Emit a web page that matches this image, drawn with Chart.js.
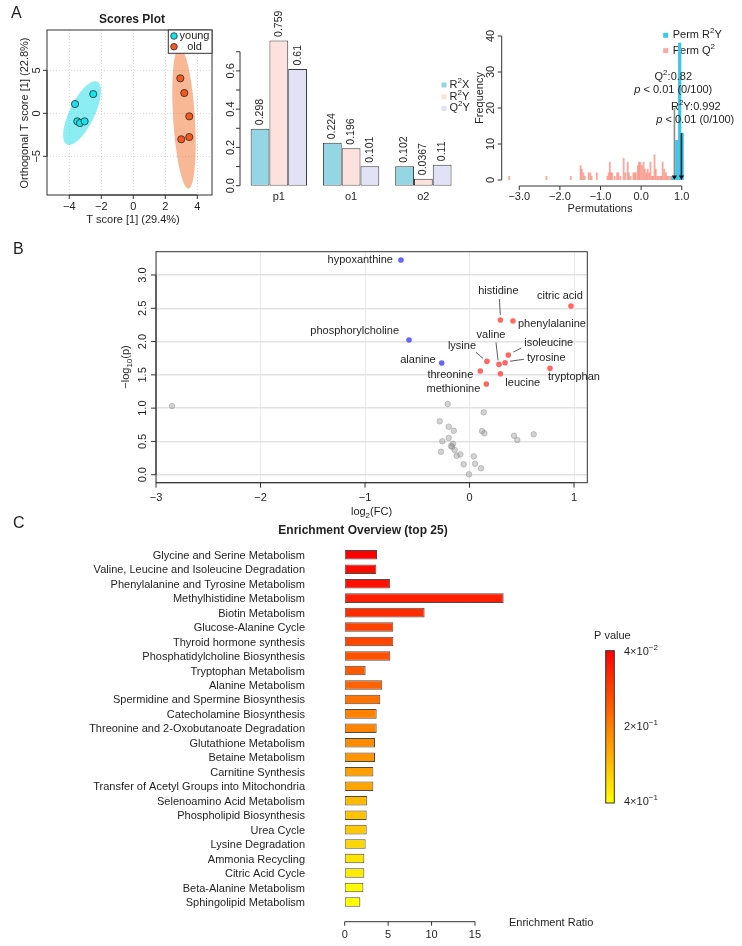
<!DOCTYPE html>
<html>
<head>
<meta charset="utf-8">
<script src="https://cdn.jsdelivr.net/npm/chart.js@4/dist/chart.umd.min.js"></script>
<style>
  html, body { margin: 0; padding: 0; background: #fff; }
  #page { position: relative; width: 742px; height: 946px; overflow: hidden; }
  #page canvas { position: absolute; left: 0; top: 0; }
</style>
</head>
<body>
<div id="page">
  <canvas id="scores" width="742" height="946"></canvas>
  <canvas id="model" width="742" height="946"></canvas>
  <canvas id="perm" width="742" height="946"></canvas>
  <canvas id="volcano" width="742" height="946"></canvas>
  <canvas id="enrich" width="742" height="946"></canvas>
</div>
<script>
// ===== DATA =====
// A: OPLS-DA scores
const youngT = [-3.64, -2.5, -3.5, -3.33, -3.04];
const youngOrthoT = [1.08, 2.24, -0.93, -1.13, -0.93];
const oldT = [2.94, 3.19, 3.5, 3.0, 3.5];
const oldOrthoT = [4.07, 2.36, -0.35, -3.02, -2.76];
// confidence ellipses: centre + two conjugate semi-axes (data units)
const youngEllipse = { c: [-3.2, 0.03], a: [0.95, 3.65], b: [0.7, -0.64] };
const oldEllipse = { c: [3.17, -0.55], a: [-0.27, 8.2], b: [0.68, 0.02] };

// A: model overview
const components = ["p1", "o1", "o2"];
const r2x = [0.298, 0.224, 0.102];
const r2y = [0.759, 0.196, 0.0367];
const q2y = [0.61, 0.101, 0.11];

// A: permutation test
const permQ2Bins = [-3.25, -2.33, -1.73, -1.49, -1.46, -1.42, -1.39, -1.29, -1.25, -1.22, -1.09,
  -0.83, -0.8, -0.77, -0.74, -0.71, -0.65, -0.59, -0.56, -0.51, -0.43, -0.39, -0.33, -0.3, -0.26,
  -0.19, -0.16, -0.13, -0.08, -0.05, -0.02, 0.02, 0.06, 0.09, 0.13, 0.16, 0.2, 0.23, 0.27, 0.29,
  0.33, 0.36, 0.4, 0.43, 0.47, 0.5, 0.53, 0.57, 0.61, 0.64, 0.68, 0.72];
const permQ2Counts = [1, 1, 1, 4, 3, 2, 1, 2, 2, 1, 2,
  1, 2, 5, 2, 2, 1, 2, 2, 1, 6, 2, 5, 2, 1,
  2, 2, 2, 4, 5, 5, 4, 5, 3, 2, 3, 2, 5, 1, 1,
  7, 3, 1, 1, 1, 1, 5, 3, 2, 1, 1, 1];
const permR2YBins = [0.78, 0.88, 0.95, 1.01];
const permR2YCounts = [1, 11, 38, 13];
const obsQ2 = 0.82;
const obsR2Y = 0.992;
const arrowFromQ2 = 20;
const arrowFromR2Y = 13;

// B: volcano
const sigNames = ["hypoxanthine", "phosphorylcholine", "alanine", "histidine", "citric acid",
  "phenylalanine", "valine", "isoleucine", "lysine", "tyrosine", "threonine", "leucine",
  "tryptophan", "methionine"];
const sigFC = [-0.656, -0.579, -0.266, 0.295, 0.971, 0.416, 0.282, 0.371, 0.167, 0.34, 0.103,
  0.295, 0.77, 0.161];
const sigP = [3.225, 2.023, 1.678, 2.324, 2.534, 2.309, 1.658, 1.798, 1.703, 1.682, 1.558,
  1.517, 1.598, 1.362];
const nsFC = [-0.209, 0.136, -0.285, -0.199, -0.151, 0.12, 0.142, 0.426, 0.457, 0.614, -0.26,
  -0.199, -0.158, -0.177, -0.167, -0.142, -0.273, -0.122, -0.088, 0.04, -0.056, 0.053, 0.11,
  -0.005, -2.847];
const nsP = [1.062, 0.937, 0.802, 0.721, 0.661, 0.656, 0.622, 0.586, 0.521, 0.607, 0.502,
  0.551, 0.466, 0.431, 0.421, 0.371, 0.346, 0.285, 0.306, 0.276, 0.156, 0.165, 0.096,
  0.006, 1.032];

// C: enrichment
const pathways = ["Glycine and Serine Metabolism", "Valine, Leucine and Isoleucine Degradation",
  "Phenylalanine and Tyrosine Metabolism", "Methylhistidine Metabolism", "Biotin Metabolism",
  "Glucose-Alanine Cycle", "Thyroid hormone synthesis", "Phosphatidylcholine Biosynthesis",
  "Tryptophan Metabolism", "Alanine Metabolism", "Spermidine and Spermine Biosynthesis",
  "Catecholamine Biosynthesis", "Threonine and 2-Oxobutanoate Degradation",
  "Glutathione Metabolism", "Betaine Metabolism", "Carnitine Synthesis",
  "Transfer of Acetyl Groups into Mitochondria", "Selenoamino Acid Metabolism",
  "Phospholipid Biosynthesis", "Urea Cycle", "Lysine Degradation", "Ammonia Recycling",
  "Citric Acid Cycle", "Beta-Alanine Metabolism", "Sphingolipid Metabolism"];
const enrichRatio = [3.72, 3.64, 5.21, 18.3, 9.2, 5.6, 5.6, 5.25, 2.41, 4.33, 4.1, 3.68, 3.68,
  3.49, 3.49, 3.3, 3.3, 2.6, 2.53, 2.53, 2.41, 2.26, 2.26, 2.15, 1.8];
const pathwayP = [0.04, 0.054, 0.061, 0.082, 0.104, 0.132, 0.139, 0.153, 0.167, 0.181, 0.202,
  0.224, 0.228, 0.238, 0.252, 0.266, 0.273, 0.301, 0.315, 0.322, 0.344, 0.365, 0.372, 0.393, 0.4];
const P_MIN = 0.04;
const P_MAX = 0.4;

// ===== HELPERS =====
const W = 742, H = 946;
const FONT = '"Liberation Sans", Arial, Helvetica, sans-serif';
const INK = "#1f1f1f";
const AXIS = "#333";

Chart.defaults.font.family = FONT;
Chart.defaults.animation = false;
Chart.defaults.responsive = false;
Chart.defaults.events = [];
Chart.defaults.plugins.legend.display = false;
Chart.defaults.plugins.tooltip.enabled = false;

function areaPadding(a) {
  return { left: a.left, top: a.top, right: W - a.right, bottom: H - a.bottom };
}
function onStep(v, step) {
  const q = v / step;
  return Math.abs(q - Math.round(q)) < 1e-6;
}
function noSize(s) {
  if (s.isHorizontal()) s.height = 0;
  else s.width = 0;
}
function gridAt(step, color) {
  return (c) => (c.tick && onStep(c.tick.value, step) ? color : "rgba(0,0,0,0)");
}
const minus = (s) => s.replace("-", "\u2212");
const fixed1 = (v) => minus(v.toFixed(1));
const plain = (v) => minus(String(v));

// text with optional super/subscript and italic pieces
function label(ctx, parts, x, y, o = {}) {
  if (typeof parts === "string") parts = [[parts, ""]];
  const size = o.size || 11;
  const fontFor = (k) =>
    `${k === "it" ? "italic " : ""}${o.bold ? "bold " : ""}${
      k === "sup" || k === "sub" ? Math.round(size * 0.72) : size
    }px ${FONT}`;
  let w = 0;
  for (const [s, k] of parts) {
    ctx.font = fontFor(k);
    w += ctx.measureText(s).width;
  }
  ctx.save();
  ctx.translate(x, y);
  if (o.rot) ctx.rotate(o.rot);
  ctx.fillStyle = o.color || INK;
  ctx.textBaseline = "middle";
  ctx.textAlign = "left";
  let cx = o.align === "right" ? -w : o.align === "left" ? 0 : -w / 2;
  for (const [s, k] of parts) {
    ctx.font = fontFor(k);
    const dy = k === "sup" ? -size * 0.38 : k === "sub" ? size * 0.3 : 0;
    ctx.fillText(s, cx, dy);
    cx += ctx.measureText(s).width;
  }
  ctx.restore();
}

// R-style axis: line from first to last tick, ticks outward, labels
function rAxis(chart, id, o) {
  const s = chart.scales[id];
  const ctx = chart.ctx;
  const vals = s.ticks
    .map((t) => t.value)
    .filter((v) => onStep(v, o.step) && v >= o.from - 1e-9 && v <= o.to + 1e-9);
  const px = vals.map((v) => s.getPixelForValue(v));
  const horiz = s.isHorizontal();
  const len = o.len ?? 4;
  ctx.save();
  ctx.strokeStyle = AXIS;
  ctx.lineWidth = 1;
  ctx.beginPath();
  if (horiz) {
    ctx.moveTo(px[0], o.at);
    ctx.lineTo(px[px.length - 1], o.at);
    px.forEach((p) => { ctx.moveTo(p, o.at); ctx.lineTo(p, o.at + len); });
  } else {
    ctx.moveTo(o.at, px[0]);
    ctx.lineTo(o.at, px[px.length - 1]);
    px.forEach((p) => { ctx.moveTo(o.at, p); ctx.lineTo(o.at - len, p); });
  }
  ctx.stroke();
  ctx.restore();
  vals.forEach((v, i) => {
    if (o.labelStep && !onStep(v, o.labelStep)) return;
    const text = (o.fmt || plain)(v);
    if (horiz) label(ctx, text, px[i], o.labelAt, { size: o.size });
    else label(ctx, text, o.labelAt, px[i], { size: o.size, rot: -Math.PI / 2 });
  });
}

function drawBox(chart) {
  const a = chart.chartArea;
  const ctx = chart.ctx;
  ctx.save();
  ctx.strokeStyle = AXIS;
  ctx.lineWidth = 1;
  ctx.strokeRect(a.left, a.top, a.right - a.left, a.bottom - a.top);
  ctx.restore();
}

function drawEllipse(chart, e, fill) {
  const { x, y } = chart.scales;
  const ctx = chart.ctx;
  ctx.save();
  ctx.beginPath();
  for (let k = 0; k <= 120; k++) {
    const t = (k / 120) * 2 * Math.PI;
    const px = x.getPixelForValue(e.c[0] + e.a[0] * Math.cos(t) + e.b[0] * Math.sin(t));
    const py = y.getPixelForValue(e.c[1] + e.a[1] * Math.cos(t) + e.b[1] * Math.sin(t));
    if (k) ctx.lineTo(px, py);
    else ctx.moveTo(px, py);
  }
  ctx.closePath();
  ctx.fillStyle = fill;
  ctx.fill();
  ctx.restore();
}

function square(ctx, x, y, size, color) {
  ctx.fillStyle = color;
  ctx.fillRect(x - size / 2, y - size / 2, size, size);
}

function pColor(p) {
  const f = Math.max(0, Math.min(1, (p - P_MIN) / (P_MAX - P_MIN)));
  return `rgb(255,${Math.round(255 * f)},0)`;
}

function linScale(min, max, step, gridColor, dash) {
  return {
    type: "linear",
    min: min,
    max: max,
    offset: false,
    afterFit: noSize,
    ticks: { display: false, stepSize: step, includeBounds: false },
    grid: gridColor
      ? { color: gridAt(step, gridColor), drawTicks: false }
      : { display: false, drawTicks: false },
    border: { display: false, dash: dash || [] },
  };
}

const catScale = {
  type: "category",
  afterFit: noSize,
  ticks: { display: false },
  grid: { display: false, drawTicks: false },
  border: { display: false },
};

// ===== A: SCORES PLOT =====
const scoresArea = { left: 47, top: 30, right: 212, bottom: 195 };
const youngColor = "#14E2EC";
const oldColor = "#F4581C";

new Chart(document.getElementById("scores"), {
  type: "scatter",
  data: {
    datasets: [
      {
        label: "young",
        data: youngT.map((x, i) => ({ x: x, y: youngOrthoT[i] })),
        backgroundColor: youngColor,
        borderColor: "#2b2b2b",
        borderWidth: 0.8,
        pointRadius: 3.6,
      },
      {
        label: "old",
        data: oldT.map((x, i) => ({ x: x, y: oldOrthoT[i] })),
        backgroundColor: oldColor,
        borderColor: "#2b2b2b",
        borderWidth: 0.8,
        pointRadius: 3.6,
      },
    ],
  },
  options: {
    devicePixelRatio: 1,
    layout: { padding: areaPadding(scoresArea) },
    scales: {
      x: linScale(-5.39, 4.92, 2, "rgba(0,0,0,0.14)", [1, 2]),
      y: linScale(-9.5, 9.69, 5, "rgba(0,0,0,0.14)", [1, 2]),
    },
  },
  plugins: [
    {
      id: "scoresDeco",
      beforeDatasetsDraw(chart) {
        drawEllipse(chart, youngEllipse, "rgba(0,214,228,0.45)");
        drawEllipse(chart, oldEllipse, "rgba(242,112,44,0.5)");
      },
      afterDraw(chart) {
        const ctx = chart.ctx;
        drawBox(chart);
        rAxis(chart, "x", { at: 195, step: 2, from: -4, to: 4, labelAt: 207 });
        rAxis(chart, "y", { at: 47, step: 5, from: -5, to: 5, labelAt: 37 });
        label(ctx, "Scores Plot", 132, 20, { bold: true, size: 12 });
        label(ctx, "T score [1] (29.4%)", 133, 220);
        label(ctx, "Orthogonal T score [1] (22.8%)", 25, 113, { rot: -Math.PI / 2 });
        // legend
        ctx.save();
        ctx.fillStyle = "#fff";
        ctx.fillRect(168.3, 30, 43.7, 23.3);
        ctx.strokeStyle = AXIS;
        ctx.strokeRect(168.3, 30, 43.7, 23.3);
        chart.data.datasets.forEach((ds, i) => {
          const y = 36 + i * 10.7;
          ctx.beginPath();
          ctx.arc(174, y, 3.3, 0, 2 * Math.PI);
          ctx.fillStyle = ds.backgroundColor;
          ctx.fill();
          ctx.lineWidth = 0.8;
          ctx.strokeStyle = ds.borderColor;
          ctx.stroke();
          label(ctx, ds.label, 194.5, y);
        });
        ctx.restore();
        label(ctx, "A", 11, 14, { size: 16, align: "left" });
      },
    },
  ],
});

// ===== A: MODEL OVERVIEW BARS =====
const modelArea = { left: 242.7, top: 32.6, right: 459.5, bottom: 185.7 };
const modelKeys = [
  [["R", ""], ["2", "sup"], ["X", ""]],
  [["R", ""], ["2", "sup"], ["Y", ""]],
  [["Q", ""], ["2", "sup"], ["Y", ""]],
];
const barStyle = {
  borderColor: "#3a3a3a",
  borderWidth: 1,
  borderSkipped: false,
  categoryPercentage: 0.78,
  barPercentage: 1,
};

new Chart(document.getElementById("model"), {
  type: "bar",
  data: {
    labels: components,
    datasets: [
      { label: "R2X", data: r2x, backgroundColor: "#94D6E4", ...barStyle },
      { label: "R2Y", data: r2y, backgroundColor: "#FCE1DD", ...barStyle },
      { label: "Q2Y", data: q2y, backgroundColor: "#E2E2F7", ...barStyle },
    ],
  },
  options: {
    devicePixelRatio: 1,
    layout: { padding: areaPadding(modelArea) },
    scales: {
      x: catScale,
      y: linScale(0, 0.8, 0.1),
    },
  },
  plugins: [
    {
      id: "modelDeco",
      afterDraw(chart) {
        const ctx = chart.ctx;
        rAxis(chart, "y", { at: 240, step: 0.1, from: 0, to: 0.7, labelStep: 0.2, labelAt: 231, fmt: fixed1 });
        const xs = chart.scales.x;
        chart.data.labels.forEach((lab, i) => label(ctx, lab, xs.getPixelForValue(i), 197));
        chart.data.datasets.forEach((ds, d) => {
          chart.getDatasetMeta(d).data.forEach((el, i) => {
            label(ctx, String(ds.data[i]), el.x, el.y - 3.5, { rot: -Math.PI / 2, align: "left", size: 10.5 });
          });
          square(ctx, 444, 85 + d * 11.7, 5, ds.backgroundColor);
          label(ctx, modelKeys[d], 449.5, 85 + d * 11.7, { align: "left" });
        });
      },
    },
  ],
});

// ===== A: PERMUTATION HISTOGRAM =====
const permArea = { left: 507.1, top: 28.8, right: 685.8, bottom: 180 };

function arrowDown(ctx, x, y0, y1, color) {
  ctx.save();
  ctx.strokeStyle = color;
  ctx.fillStyle = "#111";
  ctx.lineWidth = 1.6;
  ctx.beginPath();
  ctx.moveTo(x, y0);
  ctx.lineTo(x, y1 - 3);
  ctx.stroke();
  ctx.beginPath();
  ctx.moveTo(x - 2.6, y1 - 4.5);
  ctx.lineTo(x + 2.6, y1 - 4.5);
  ctx.lineTo(x, y1);
  ctx.closePath();
  ctx.fill();
  ctx.restore();
}

new Chart(document.getElementById("perm"), {
  type: "bar",
  data: {
    datasets: [
      {
        label: "Perm R2Y",
        data: permR2YBins.map((x, i) => ({ x: x, y: permR2YCounts[i] })),
        backgroundColor: "#3EC5EA",
        barThickness: 2.6,
        grouped: false,
      },
      {
        label: "Perm Q2",
        data: permQ2Bins.map((x, i) => ({ x: x, y: permQ2Counts[i] })),
        backgroundColor: "rgba(248,140,125,0.75)",
        barThickness: 1.2,
        grouped: false,
      },
    ],
  },
  options: {
    devicePixelRatio: 1,
    layout: { padding: areaPadding(permArea) },
    scales: {
      x: linScale(-3.3, 1.1, 1),
      y: linScale(0, 42, 10),
    },
  },
  plugins: [
    {
      id: "permDeco",
      beforeDatasetsDraw(chart) {
        const ctx = chart.ctx;
        const ds = chart.data.datasets;
        square(ctx, 665.7, 35.3, 5, ds[0].backgroundColor);
        label(ctx, [["Perm R", ""], ["2", "sup"], ["Y", ""]], 672.7, 35.3, { align: "left" });
        square(ctx, 665.7, 50.7, 5, ds[1].backgroundColor);
        label(ctx, [["Perm Q", ""], ["2", "sup"]], 672.7, 50.7, { align: "left" });
      },
      afterDatasetsDraw(chart) {
        const ctx = chart.ctx;
        const { x, y } = chart.scales;
        arrowDown(ctx, x.getPixelForValue(obsQ2), y.getPixelForValue(arrowFromQ2), y.getPixelForValue(0), "#8a8a8a");
        arrowDown(ctx, x.getPixelForValue(obsR2Y), y.getPixelForValue(arrowFromR2Y), y.getPixelForValue(0), "#2a2a2a");
      },
      afterDraw(chart) {
        const ctx = chart.ctx;
        rAxis(chart, "y", { at: 501.7, step: 10, from: 0, to: 40, labelAt: 491 });
        rAxis(chart, "x", { at: 186, step: 1, from: -3, to: 1, labelAt: 196.5, fmt: fixed1 });
        label(ctx, "Frequency", 480, 98, { rot: -Math.PI / 2 });
        label(ctx, "Permutations", 600, 209);
        label(ctx, [["Q", ""], ["2", "sup"], [":" + obsQ2, ""]], 673.3, 77);
        label(ctx, [["p", "it"], [" < 0.01 (0/100)", ""]], 673.3, 90);
        label(ctx, [["R", ""], ["2", "sup"], ["Y:" + obsR2Y, ""]], 695.8, 107);
        label(ctx, [["p", "it"], [" < 0.01 (0/100)", ""]], 695.3, 120);
      },
    },
  ],
});

// ===== B: VOLCANO =====
const volcanoArea = { left: 156, top: 251.7, right: 587.3, bottom: 482.7 };
// label placement relative to each point (px)
const volcanoLabels = {
  hypoxanthine: { dx: -8, dy: 0, align: "right" },
  phosphorylcholine: { dx: -10, dy: -9, align: "right" },
  alanine: { dx: -6, dy: -3, align: "right" },
  histidine: { dx: -2, dy: -29, align: "center", lead: [-1, -21, 0, -5] },
  "citric acid": { dx: -11, dy: -10, align: "center" },
  phenylalanine: { dx: 5, dy: 3, align: "left" },
  valine: { dx: -8, dy: -29, align: "center", lead: [-3, -22, -1, -4] },
  isoleucine: { dx: 16, dy: -12, align: "left", lead: [5, -3, 13, -7] },
  lysine: { dx: -25, dy: -15, align: "center", lead: [-11, -9, -4, -3] },
  tyrosine: { dx: 22, dy: -5, align: "left", lead: [5, -1.5, 19, -3.5] },
  threonine: { dx: -7, dy: 4, align: "right" },
  leucine: { dx: 5, dy: 9, align: "left" },
  tryptophan: { dx: -2, dy: 9, align: "left" },
  methionine: { dx: -6, dy: 5, align: "right" },
};

new Chart(document.getElementById("volcano"), {
  type: "scatter",
  data: {
    datasets: [
      {
        label: "significant",
        data: sigFC.map((x, i) => ({ x: x, y: sigP[i] })),
        backgroundColor: (c) => (sigFC[c.dataIndex] > 0 ? "#FF6666" : "#6666FF"),
        borderWidth: 0,
        pointRadius: 2.8,
      },
      {
        label: "not significant",
        data: nsFC.map((x, i) => ({ x: x, y: nsP[i] })),
        backgroundColor: "rgba(150,150,150,0.42)",
        borderColor: "rgba(120,120,120,0.45)",
        borderWidth: 0.8,
        pointRadius: 2.8,
      },
    ],
  },
  options: {
    devicePixelRatio: 1,
    layout: { padding: areaPadding(volcanoArea) },
    scales: {
      x: linScale(-3.0, 1.127, 1, "#ebebeb"),
      y: { ...linScale(-0.12, 3.35, 0.5, "#e2e2e2"), grid: { color: gridAt(0.5, "#e2e2e2"), lineWidth: 1.5, drawTicks: false } },
    },
  },
  plugins: [
    {
      id: "volcanoDeco",
      afterDraw(chart) {
        const ctx = chart.ctx;
        drawBox(chart);
        rAxis(chart, "x", { at: 482.7, step: 1, from: -3, to: 1, labelAt: 497.5, len: 5 });
        rAxis(chart, "y", { at: 156, step: 0.5, from: 0, to: 3, labelAt: 143, fmt: fixed1, len: 5 });
        label(ctx, [["\u2212log", ""], ["10", "sub"], ["(p)", ""]], 126, 367, { rot: -Math.PI / 2 });
        label(ctx, [["log", ""], ["2", "sub"], ["(FC)", ""]], 371.5, 512);
        const meta = chart.getDatasetMeta(0);
        sigNames.forEach((name, i) => {
          const el = meta.data[i];
          const o = volcanoLabels[name];
          label(ctx, name, el.x + o.dx, el.y + o.dy, { align: o.align });
          if (o.lead) {
            ctx.save();
            ctx.strokeStyle = "#333";
            ctx.lineWidth = 0.8;
            ctx.beginPath();
            ctx.moveTo(el.x + o.lead[0], el.y + o.lead[1]);
            ctx.lineTo(el.x + o.lead[2], el.y + o.lead[3]);
            ctx.stroke();
            ctx.restore();
          }
        });
        label(ctx, "B", 13, 250, { size: 16, align: "left" });
      },
    },
  ],
});

// ===== C: ENRICHMENT OVERVIEW =====
const enrichArea = { left: 344.7, top: 547.5, right: 518.4, bottom: 909.2 };
const colorBar = { left: 605.7, right: 614.3, top: 650.7, bottom: 803 };

new Chart(document.getElementById("enrich"), {
  type: "bar",
  data: {
    labels: pathways,
    datasets: [
      {
        label: "Enrichment Ratio",
        data: enrichRatio,
        backgroundColor: pathwayP.map(pColor),
        borderColor: "#4a4a4a",
        borderWidth: 1,
        borderSkipped: false,
        barPercentage: 0.66,
        categoryPercentage: 1,
      },
    ],
  },
  options: {
    devicePixelRatio: 1,
    indexAxis: "y",
    layout: { padding: areaPadding(enrichArea) },
    scales: {
      x: linScale(0, 20, 5),
      y: catScale,
    },
  },
  plugins: [
    {
      id: "enrichDeco",
      afterDraw(chart) {
        const ctx = chart.ctx;
        const ys = chart.scales.y;
        chart.data.labels.forEach((lab, i) => label(ctx, lab, 305, ys.getPixelForValue(i) + 1, { align: "right" }));
        rAxis(chart, "x", { at: 921.7, step: 5, from: 0, to: 15, labelAt: 935 });
        label(ctx, "Enrichment Ratio", 509, 923, { align: "left" });
        label(ctx, "Enrichment Overview (top 25)", 363, 531, { bold: true, size: 12 });
        // p-value colour key
        const g = ctx.createLinearGradient(0, colorBar.top, 0, colorBar.bottom);
        g.addColorStop(0, pColor(P_MIN));
        g.addColorStop(1, pColor(P_MAX));
        ctx.save();
        ctx.fillStyle = g;
        ctx.fillRect(colorBar.left, colorBar.top, colorBar.right - colorBar.left, colorBar.bottom - colorBar.top);
        ctx.strokeStyle = AXIS;
        ctx.lineWidth = 1;
        ctx.strokeRect(colorBar.left, colorBar.top, colorBar.right - colorBar.left, colorBar.bottom - colorBar.top);
        ctx.restore();
        label(ctx, "P value", 594, 636, { align: "left" });
        const mid = (colorBar.top + colorBar.bottom) / 2;
        label(ctx, [["4\u00d710", ""], ["\u22122", "sup"]], 624, colorBar.top + 1, { align: "left" });
        label(ctx, [["2\u00d710", ""], ["\u22121", "sup"]], 624, mid, { align: "left" });
        label(ctx, [["4\u00d710", ""], ["\u22121", "sup"]], 624, colorBar.bottom - 1, { align: "left" });
        label(ctx, "C", 13, 524, { size: 16, align: "left" });
      },
    },
  ],
});
</script>
</body>
</html>
